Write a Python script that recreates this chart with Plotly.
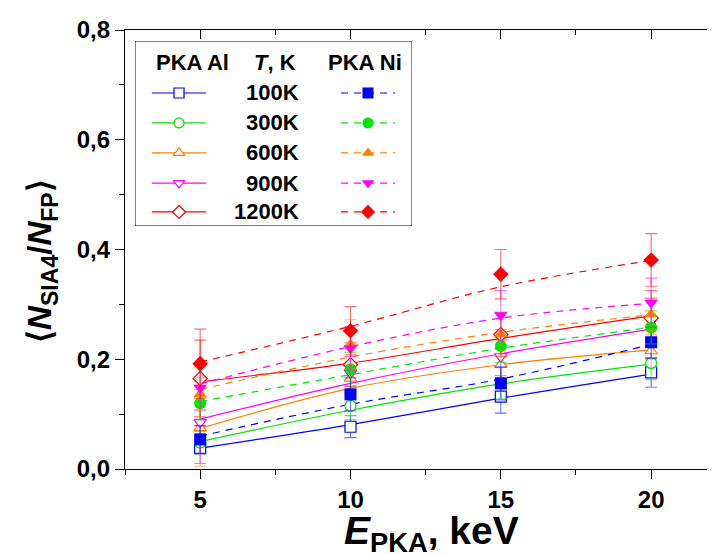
import plotly.graph_objects as go

# ---------------- data ----------------
energy = [5, 10, 15, 20]
temp_labels = ["100K", "300K", "600K", "900K", "1200K"]
series_colors = ["#0000ff", "#00e600", "#ff8000", "#ff00ff", "#ff0000"]
err_colors = ["rgba(0,0,255,0.55)", "rgba(0,230,0,0.55)", "rgba(255,128,0,0.55)",
              "rgba(255,0,255,0.55)", "rgba(255,0,0,0.55)"]

# PKA Al (open symbols)
al_100 = [0.038, 0.077, 0.132, 0.176]
al_300 = [0.048, 0.115, 0.158, 0.193]
al_600 = [0.075, 0.165, 0.190, 0.215]
al_900 = [0.085, 0.175, 0.205, 0.270]
al_1200 = [0.165, 0.190, 0.245, 0.275]
al_100_err = [0.010, 0.020, 0.030, 0.027]
al_300_err = [0.020, 0.025, 0.030, 0.030]
al_600_err = [0.070, 0.030, 0.030, 0.030]
al_900_err = [0.075, 0.030, 0.035, 0.040]
al_1200_err = [0.070, 0.040, 0.040, 0.050]
# fitted curves for PKA Al (solid lines)
al_100_fit = [0.038, 0.081, 0.129, 0.173]
al_300_fit = [0.050, 0.107, 0.155, 0.191]
al_600_fit = [0.074, 0.147, 0.190, 0.217]
al_900_fit = [0.091, 0.156, 0.210, 0.255]
al_1200_fit = [0.159, 0.193, 0.238, 0.279]

# PKA Ni (filled symbols)
ni_100 = [0.054, 0.136, 0.156, 0.231]
ni_300 = [0.120, 0.182, 0.224, 0.258]
ni_600 = [0.136, 0.227, 0.246, 0.282]
ni_900 = [0.148, 0.220, 0.280, 0.303]
ni_1200 = [0.192, 0.252, 0.355, 0.381]
ni_100_err = [0.025, 0.030, 0.030, 0.030]
ni_300_err = [0.030, 0.030, 0.030, 0.030]
ni_600_err = [0.030, 0.045, 0.040, 0.030]
ni_900_err = [0.040, 0.040, 0.045, 0.045]
ni_1200_err = [0.063, 0.044, 0.045, 0.048]
# fitted curves for PKA Ni (dashed lines)
ni_100_fit = [0.060, 0.118, 0.164, 0.227]
ni_300_fit = [0.123, 0.172, 0.220, 0.258]
ni_600_fit = [0.145, 0.204, 0.249, 0.281]
ni_900_fit = [0.155, 0.223, 0.275, 0.302]
ni_1200_fit = [0.195, 0.260, 0.332, 0.380]

x_ticks = [5, 10, 15, 20]
y_ticks = [0.0, 0.2, 0.4, 0.6, 0.8]

al_vals = [al_100, al_300, al_600, al_900, al_1200]
al_errs = [al_100_err, al_300_err, al_600_err, al_900_err, al_1200_err]
al_fits = [al_100_fit, al_300_fit, al_600_fit, al_900_fit, al_1200_fit]
ni_vals = [ni_100, ni_300, ni_600, ni_900, ni_1200]
ni_errs = [ni_100_err, ni_300_err, ni_600_err, ni_900_err, ni_1200_err]
ni_fits = [ni_100_fit, ni_300_fit, ni_600_fit, ni_900_fit, ni_1200_fit]

al_symbols = ["square", "circle", "triangle-up", "triangle-down", "diamond"]
ni_symbols = ["square", "circle", "triangle-up", "triangle-down", "diamond"]

FONT = "Liberation Sans, Arial, sans-serif"
fig = go.Figure()

# fitted lines
for i in range(5):
    fig.add_trace(go.Scatter(x=energy, y=al_fits[i], mode="lines", line_shape="spline",
                             line=dict(color=series_colors[i], width=1.2),
                             showlegend=False, hoverinfo="skip"))
for i in range(5):
    fig.add_trace(go.Scatter(x=energy, y=ni_fits[i], mode="lines", line_shape="spline",
                             line=dict(color=series_colors[i], width=1.2, dash="7px,6px"),
                             showlegend=False, hoverinfo="skip"))

# Al points (open symbols, white fill)
for i in range(5):
    fig.add_trace(go.Scatter(x=energy, y=al_vals[i], mode="markers",
                             marker=dict(symbol=al_symbols[i], size=11, color="white",
                                         line=dict(color=series_colors[i], width=1.2)),
                             error_y=dict(type="data", array=al_errs[i], color=err_colors[i],
                                          thickness=1.2, width=6),
                             showlegend=False))
# Ni points (filled symbols)
for i in range(5):
    fig.add_trace(go.Scatter(x=energy, y=ni_vals[i], mode="markers",
                             marker=dict(symbol=ni_symbols[i], size=12, color=series_colors[i],
                                         line=dict(color=series_colors[i], width=0)),
                             error_y=dict(type="data", array=ni_errs[i], color=err_colors[i],
                                          thickness=1.2, width=6),
                             showlegend=False))

# helper trace for mirrored axes
fig.add_trace(go.Scatter(x=[10], y=[0.1], xaxis="x2", yaxis="y2", mode="markers",
                         marker=dict(opacity=0), showlegend=False, hoverinfo="skip"))

# ----- custom legend on its own hidden axes (units 0..1 inside the box) -----
leg_rows = [0.719, 0.557, 0.395, 0.232, 0.076]
for i in range(5):
    yy = leg_rows[i]
    fig.add_trace(go.Scatter(x=[0.061, 0.256], y=[yy, yy], xaxis="x3", yaxis="y3", mode="lines",
                             line=dict(color=series_colors[i], width=1.2),
                             showlegend=False, hoverinfo="skip"))
    fig.add_trace(go.Scatter(x=[0.159], y=[yy], xaxis="x3", yaxis="y3", mode="markers",
                             marker=dict(symbol=al_symbols[i], size=10, color="white",
                                         line=dict(color=series_colors[i], width=1.2)),
                             showlegend=False, hoverinfo="skip"))
    fig.add_trace(go.Scatter(x=[0.744, 0.939], y=[yy, yy], xaxis="x3", yaxis="y3", mode="lines",
                             line=dict(color=series_colors[i], width=1.2, dash="7px,6px"),
                             showlegend=False, hoverinfo="skip"))
    fig.add_trace(go.Scatter(x=[0.841], y=[yy], xaxis="x3", yaxis="y3", mode="markers",
                             marker=dict(symbol=ni_symbols[i], size=11, color=series_colors[i]),
                             showlegend=False, hoverinfo="skip"))

annotations = []
for i in range(5):
    annotations.append(dict(x=0.599, y=leg_rows[i], xref="x3", yref="y3", text=temp_labels[i],
                            showarrow=False, xanchor="right", yanchor="middle",
                            font=dict(family=FONT, size=22, color="black", weight="bold")))
for txt, xx in [("PKA Al", 0.209), ("<i>T</i>, K", 0.505), ("PKA Ni", 0.830)]:
    annotations.append(dict(x=xx, y=0.881, xref="x3", yref="y3", text=txt, showarrow=False,
                            xanchor="center", yanchor="middle",
                            font=dict(family=FONT, size=22, color="black", weight="bold")))

# axis titles
annotations.append(dict(x=0.512, y=-0.148, xref="paper", yref="paper",
                        text="<b><i>E</i><sub>PKA</sub>, keV</b>", showarrow=False,
                        xanchor="center", yanchor="middle",
                        font=dict(family=FONT, size=39, color="black")))
annotations.append(dict(x=-0.138, y=0.475, xref="paper", yref="paper", textangle=-90,
                        text="<b>\u27e8<i>N</i><sub>SIA4</sub>/<i>N</i><sub>FP</sub>\u27e9</b>",
                        showarrow=False, xanchor="center", yanchor="middle",
                        font=dict(family=FONT, size=33, color="black")))

xr = [2.5, 22.39]
yr = [0.0, 0.8]
fig.update_layout(
    width=715, height=554,
    margin=dict(l=117, r=0, t=22, b=93),
    paper_bgcolor="white", plot_bgcolor="white",
    separators=",.",
    showlegend=False,
    annotations=annotations,
    shapes=[dict(type="rect", xref="x3", yref="y3", x0=0, x1=1, y0=0, y1=1,
                 line=dict(color="black", width=1), fillcolor="rgba(0,0,0,0)")],
    xaxis=dict(range=xr, domain=[0, 1], anchor="y", showgrid=False, zeroline=False,
               showline=True, linecolor="black", linewidth=1.2,
               tickmode="array", tickvals=x_ticks, ticks="outside", ticklen=9, tickwidth=1.2,
               tickcolor="black",
               minor=dict(tickmode="linear", tick0=0, dtick=2.5, ticks="outside", ticklen=5,
                          tickwidth=1.2, tickcolor="black", showgrid=False),
               tickfont=dict(family=FONT, size=24, color="black", weight="bold")),
    xaxis2=dict(range=xr, overlaying="x", side="top", anchor="y2", showgrid=False, zeroline=False,
                showline=True, linecolor="black", linewidth=1.2, showticklabels=False,
                tickmode="array", tickvals=x_ticks, ticks="inside", ticklen=9, tickwidth=1.2,
                tickcolor="black",
                minor=dict(tickmode="linear", tick0=0, dtick=2.5, ticks="inside", ticklen=5,
                           tickwidth=1.2, tickcolor="black", showgrid=False)),
    yaxis=dict(range=yr, domain=[0, 1], anchor="x", showgrid=False, zeroline=False,
               showline=True, linecolor="black", linewidth=1.2,
               tickmode="array", tickvals=y_ticks, tickformat=".1f",
               ticks="outside", ticklen=9, tickwidth=1.2, tickcolor="black",
               minor=dict(tickmode="linear", tick0=0, dtick=0.1, ticks="outside", ticklen=5,
                          tickwidth=1.2, tickcolor="black", showgrid=False),
               tickfont=dict(family=FONT, size=24, color="black", weight="bold")),
    yaxis2=dict(range=yr, overlaying="y", side="right", anchor="x2", showgrid=False, zeroline=False,
                showline=False, showticklabels=False,
                tickmode="array", tickvals=y_ticks, ticks="inside", ticklen=9, tickwidth=1.2,
                tickcolor="black",
                minor=dict(tickmode="linear", tick0=0, dtick=0.1, ticks="inside", ticklen=5,
                           tickwidth=1.2, tickcolor="black", showgrid=False)),
    xaxis3=dict(domain=[0.0167, 0.48], range=[0, 1], anchor="y3", visible=False, fixedrange=True),
    yaxis3=dict(domain=[0.5535, 0.975], range=[0, 1], anchor="x3", visible=False, fixedrange=True),
)

fig.write_html("out.html")
